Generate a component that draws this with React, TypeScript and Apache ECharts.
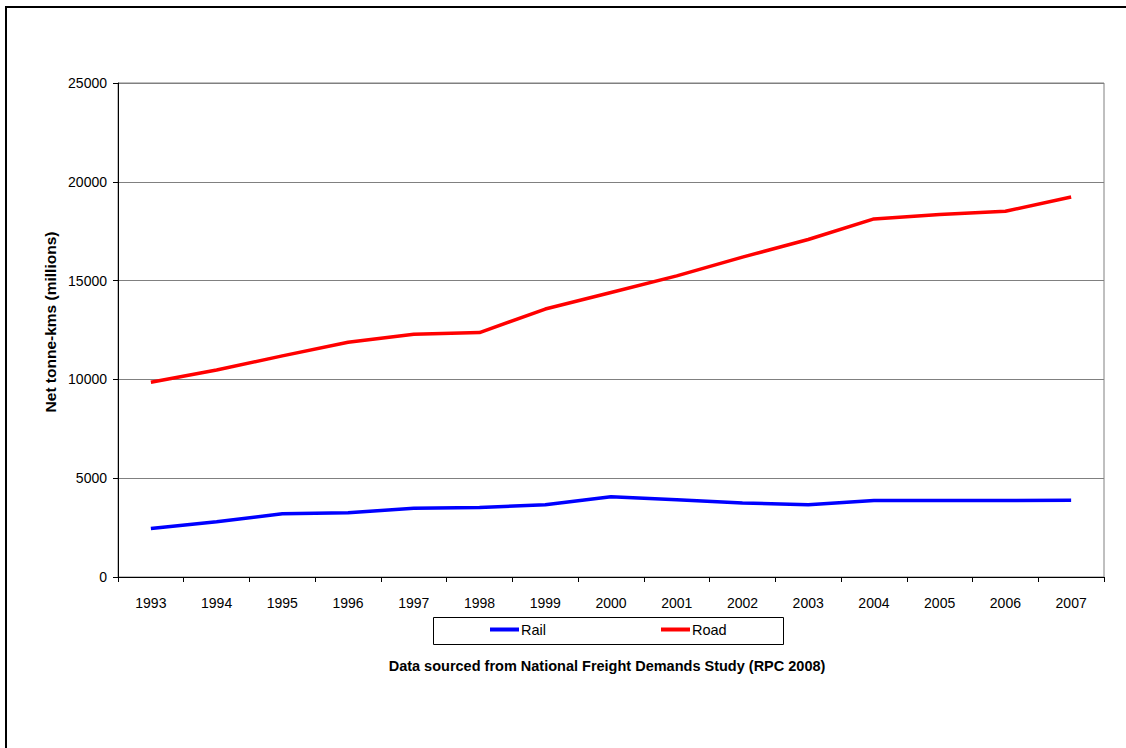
import React, { useEffect, useRef } from "react";
import * as echarts from "echarts";

const years = ["1993","1994","1995","1996","1997","1998","1999","2000","2001","2002","2003","2004","2005","2006","2007"];
const rail = [2450, 2800, 3200, 3250, 3480, 3520, 3660, 4060, 3910, 3750, 3660, 3870, 3870, 3870, 3880];
const road = [9860, 10480, 11190, 11880, 12290, 12370, 13560, 14400, 15240, 16190, 17080, 18120, 18340, 18510, 19230];
const yTicks = { min: 0, max: 25000, interval: 5000 };
const yTitle = "Net tonne-kms (millions)";
const sourceNote = "Data sourced from National Freight Demands Study (RPC 2008)";

const FONT = "'Liberation Sans', Arial, sans-serif";

export default function App() {
  const ref = useRef<HTMLDivElement>(null);
  useEffect(() => {
    if (!ref.current) return;
    const chart = echarts.init(ref.current, undefined, { renderer: "svg" });
    chart.setOption({
      animation: false,
      backgroundColor: "#ffffff",
      textStyle: { fontFamily: FONT },
      grid: {
        left: 118, top: 83, width: 986, height: 494,
        show: true, borderColor: "#808080", borderWidth: 1, backgroundColor: "transparent",
      },
      legend: {
        left: 490, top: 622, padding: 0,
        icon: "rect", itemWidth: 29, itemHeight: 4, itemGap: 115,
        textStyle: { fontSize: 14.5, color: "#000", fontFamily: FONT, padding: [0, 0, 0, -3] },
        data: ["Rail", "Road"],
      },
      xAxis: {
        type: "category",
        data: years,
        boundaryGap: true,
        axisLine: { show: true, lineStyle: { color: "#000", width: 1 } },
        axisTick: { show: true, alignWithLabel: false, length: 5, lineStyle: { color: "#000" } },
        axisLabel: { color: "#000", fontSize: 14, margin: 19, fontFamily: FONT },
        splitLine: { show: false },
      },
      yAxis: {
        type: "value",
        min: yTicks.min, max: yTicks.max, interval: yTicks.interval,
        axisLine: { show: true, lineStyle: { color: "#000", width: 1 } },
        axisTick: { show: true, length: 5, lineStyle: { color: "#000" } },
        axisLabel: { color: "#000", fontSize: 14, margin: 11, fontFamily: FONT, formatter: (v: number) => String(v) },
        splitLine: { show: true, lineStyle: { color: "#808080", width: 1 } },
      },
      series: [
        { name: "Rail", type: "line", data: rail, symbol: "none", color: "#0000ff", lineStyle: { color: "#0000ff", width: 3.5 } },
        { name: "Road", type: "line", data: road, symbol: "none", color: "#ff0000", lineStyle: { color: "#ff0000", width: 3.5 } },
      ],
      graphic: [
        { type: "rect", shape: { x: 6, y: 7, width: 1140, height: 800 }, style: { fill: "none", stroke: "#000", lineWidth: 2 }, silent: true },
        { type: "rect", shape: { x: 433.5, y: 617.5, width: 350, height: 27 }, style: { fill: "none", stroke: "#000", lineWidth: 1 }, silent: true },
        {
          type: "text", x: 607, y: 666,
          style: { text: sourceNote, font: `bold 14.5px ${FONT}`, fill: "#000", textAlign: "center", textVerticalAlign: "middle" },
        },
        {
          type: "text", x: 50, y: 322, rotation: Math.PI / 2,
          style: { text: yTitle, font: `bold 15.5px ${FONT}`, fill: "#000", textAlign: "center", textVerticalAlign: "middle" },
        },
      ],
    });
    return () => chart.dispose();
  }, []);
  return <div ref={ref} style={{ position: "absolute", left: 0, top: 0, width: 1126, height: 748 }} />;
}
